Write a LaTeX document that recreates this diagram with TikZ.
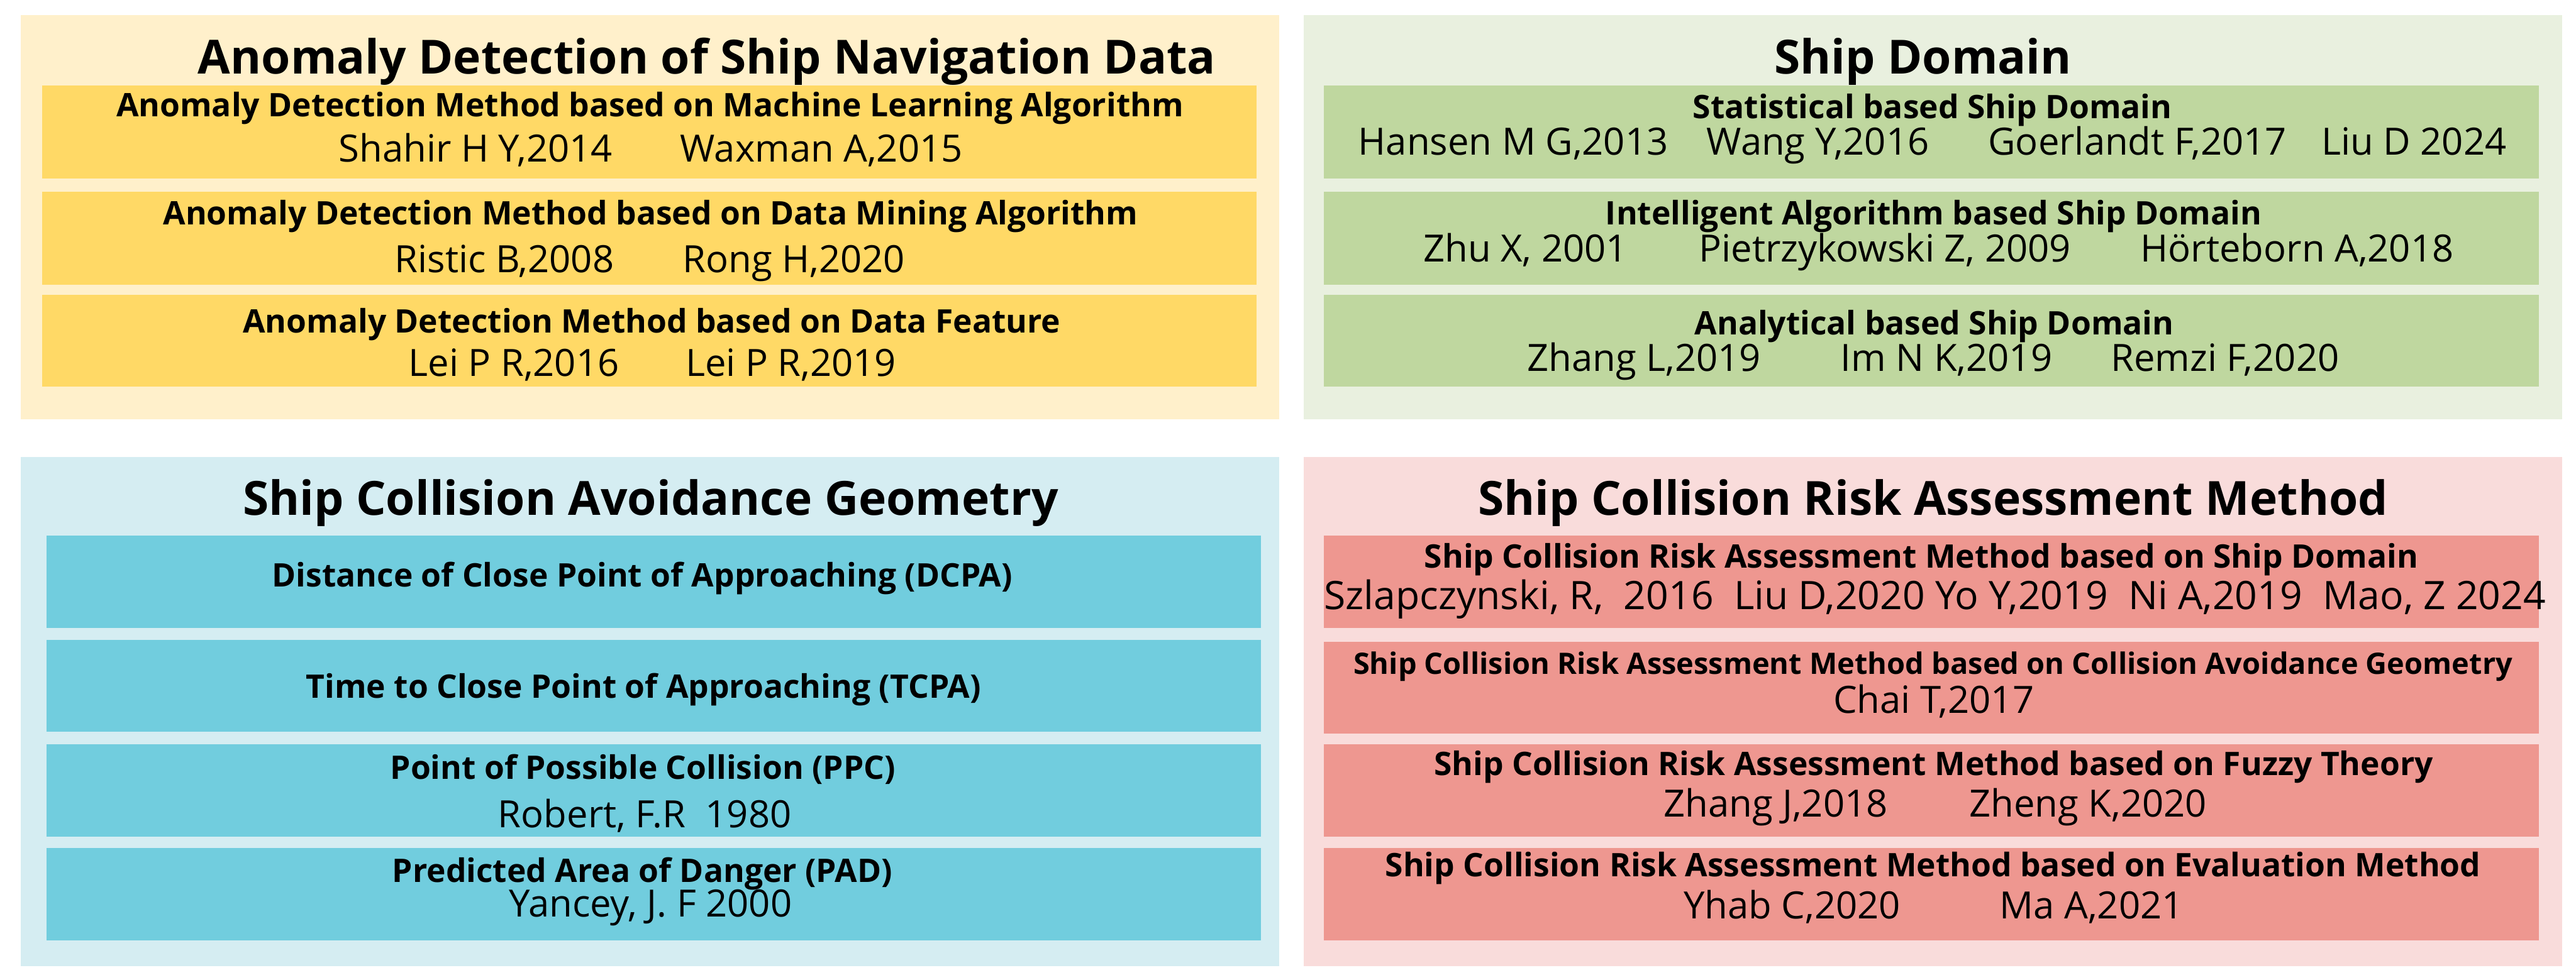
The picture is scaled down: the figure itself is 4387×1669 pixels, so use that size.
\documentclass[tikz,border=0pt]{standalone}
\usepackage{fontspec}
\setmainfont{Open Sans}
\usepackage{tikz}
\usetikzlibrary{positioning}
\definecolor{navback}{HTML}{FFF0CB}
\definecolor{navcell}{HTML}{FFD966}
\definecolor{domback}{HTML}{E9F0DF}
\definecolor{domcell}{HTML}{BFD79F}
\definecolor{geoback}{HTML}{D5EDF2}
\definecolor{geocell}{HTML}{71CDDE}
\definecolor{riskback}{HTML}{F9DCDB}
\definecolor{riskcell}{HTML}{EE9790}

\tikzset{
  area/.style={inner sep=0pt, outer sep=0pt, anchor=north west,
    minimum width=21.42cm},
  cell/.style={inner sep=0pt, outer sep=0pt, anchor=north west},
  ttl/.style={inner sep=0pt, text height=16.3pt, text depth=5.5pt,
    font=\bfseries\fontsize{22.8}{27}\selectfont},
  hdr/.style={inner sep=0pt, text height=11.2pt, text depth=3.8pt,
    font=\bfseries\fontsize{15.7}{19}\selectfont},
  hdrsmall/.style={inner sep=0pt, text height=10.2pt, text depth=3.5pt,
    font=\bfseries\fontsize{14.3}{17}\selectfont},
  ref/.style={inner sep=0pt, text height=13pt, text depth=4.4pt,
    font=\fontsize{18.2}{22}\selectfont},
  refwide/.style={inner sep=0pt, text height=13.6pt, text depth=4.6pt,
    font=\fontsize{19}{23}\selectfont}
}

\begin{document}
\begin{tikzpicture}[x=0.01cm, y=-0.01cm]
  \useasboundingbox (0,0) rectangle (4387,1669);

  % background panels
  \node[area, fill=navback, minimum height=6.88cm] (nav) at (35,26) {};
  \node[area, fill=domback, minimum height=6.88cm] (dom) at (2220,26) {};
  \node[area, fill=geoback, minimum height=8.67cm] (geo) at (35,779) {};
  \node[area, fill=riskback, minimum height=8.67cm] (risk) at (2220,779) {};

  % anomaly detection
  \node[ttl] (navt) at (1204,107) {Anomaly Detection of Ship Navigation Data};
  \node[cell, fill=navcell, minimum width=20.67cm, minimum height=1.58cm] (nav1) at (72,146) {};
  \node[cell, fill=navcell, minimum width=20.67cm, minimum height=1.58cm] (nav2) at (72,327) {};
  \node[cell, fill=navcell, minimum width=20.67cm, minimum height=1.57cm] (nav3) at (72,502) {};
  \node[hdr] (nav1h) at (1107,186) {Anomaly Detection Method based on Machine Learning Algorithm};
  \node[ref] (nav1a) at (810,261) {Shahir H Y,2014};
  \node[ref] (nav1b) at (1399,261) {Waxman A,2015};
  \node[hdr] (nav2h) at (1108,370) {Anomaly Detection Method based on Data Mining Algorithm};
  \node[ref] (nav2a) at (859,449) {Ristic B,2008};
  \node[ref] (nav2b) at (1352,449) {Rong H,2020};
  \node[hdr] (nav3h) at (1110,554) {Anomaly Detection Method based on Data Feature};
  \node[ref] (nav3a) at (875,626) {Lei P R,2016};
  \node[ref] (nav3b) at (1347,626) {Lei P R,2019};

  % ship domain
  \node[ttl] (domt) at (3275,107) {Ship Domain};
  \node[cell, fill=domcell, minimum width=20.68cm, minimum height=1.58cm] (dom1) at (2255,146) {};
  \node[cell, fill=domcell, minimum width=20.68cm, minimum height=1.58cm] (dom2) at (2255,327) {};
  \node[cell, fill=domcell, minimum width=20.68cm, minimum height=1.57cm] (dom3) at (2255,502) {};
  \node[hdr] (dom1h) at (3291,189) {Statistical based Ship Domain};
  \node[ref] (dom1a) at (2577,249) {Hansen M G,2013};
  \node[ref] (dom1b) at (3096,249) {Wang Y,2016};
  \node[ref] (dom1c) at (3640,249) {Goerlandt F,2017};
  \node[ref] (dom1d) at (4111,249) {Liu D 2024};
  \node[hdr] (dom2h) at (3293,370) {Intelligent Algorithm based Ship Domain};
  \node[ref] (dom2a) at (2598,431) {Zhu X, 2001};
  \node[ref] (dom2b) at (3210,431) {Pietrzykowski Z, 2009};
  \node[ref] (dom2c) at (3912,431) {Hörteborn A,2018};
  \node[hdr] (dom3h) at (3294,557) {Analytical based Ship Domain};
  \node[ref] (dom3a) at (2800,617) {Zhang L,2019};
  \node[ref] (dom3b) at (3315,617) {Im N K,2019};
  \node[ref] (dom3c) at (3789,617) {Remzi F,2020};

  % collision avoidance geometry
  \node[ttl] (geot) at (1108,859) {Ship Collision Avoidance Geometry};
  \node[cell, fill=geocell, minimum width=20.67cm, minimum height=1.58cm] (geo1) at (79,912) {};
  \node[cell, fill=geocell, minimum width=20.67cm, minimum height=1.57cm] (geo2) at (79,1090) {};
  \node[cell, fill=geocell, minimum width=20.67cm, minimum height=1.57cm] (geo3) at (79,1268) {};
  \node[cell, fill=geocell, minimum width=20.67cm, minimum height=1.57cm] (geo4) at (79,1445) {};
  \node[hdr] (geo1h) at (1094,987) {Distance of Close Point of Approaching (DCPA)};
  \node[hdr] (geo2h) at (1096,1176) {Time to Close Point of Approaching (TCPA)};
  \node[hdr] (geo3h) at (1095,1314) {Point of Possible Collision (PPC)};
  \node[ref] (geo3a) at (1098,1395) {Robert, F.R\ \ 1980};
  \node[hdr] (geo4h) at (1094,1490) {Predicted Area of Danger (PAD)};
  \node[ref] (geo4a) at (1108,1547) {Yancey, J. F 2000};

  % collision risk assessment
  \node[ttl] (riskt) at (3292,859) {Ship Collision Risk Assessment Method};
  \node[cell, fill=riskcell, minimum width=20.68cm, minimum height=1.58cm] (risk1) at (2255,912) {};
  \node[cell, fill=riskcell, minimum width=20.68cm, minimum height=1.56cm] (risk2) at (2255,1094) {};
  \node[cell, fill=riskcell, minimum width=20.68cm, minimum height=1.57cm] (risk3) at (2255,1268) {};
  \node[cell, fill=riskcell, minimum width=20.68cm, minimum height=1.57cm] (risk4) at (2255,1445) {};
  \node[hdr] (risk1h) at (3272,955) {Ship Collision Risk Assessment Method based on Ship Domain};
  \node[refwide] (risk1a) at (3295,1023) {Szlapczynski, R,\ \ 2016\ \ Liu D,2020 Yo Y,2019\ \ Ni A,2019\ \ Mao, Z 2024};
  \node[hdrsmall] (risk2h) at (3292,1137) {Ship Collision Risk Assessment Method based on Collision Avoidance Geometry};
  \node[ref] (risk2a) at (3293,1200) {Chai T,2017};
  \node[hdr] (risk3h) at (3293,1308) {Ship Collision Risk Assessment Method based on Fuzzy Theory};
  \node[ref] (risk3a) at (3024,1377) {Zhang J,2018};
  \node[ref] (risk3b) at (3556,1377) {Zheng K,2020};
  \node[hdr] (risk4h) at (3292,1481) {Ship Collision Risk Assessment Method based on Evaluation Method};
  \node[ref] (risk4a) at (3052,1550) {Yhab C,2020};
  \node[ref] (risk4b) at (3562,1550) {Ma A,2021};
\end{tikzpicture}
\end{document}
